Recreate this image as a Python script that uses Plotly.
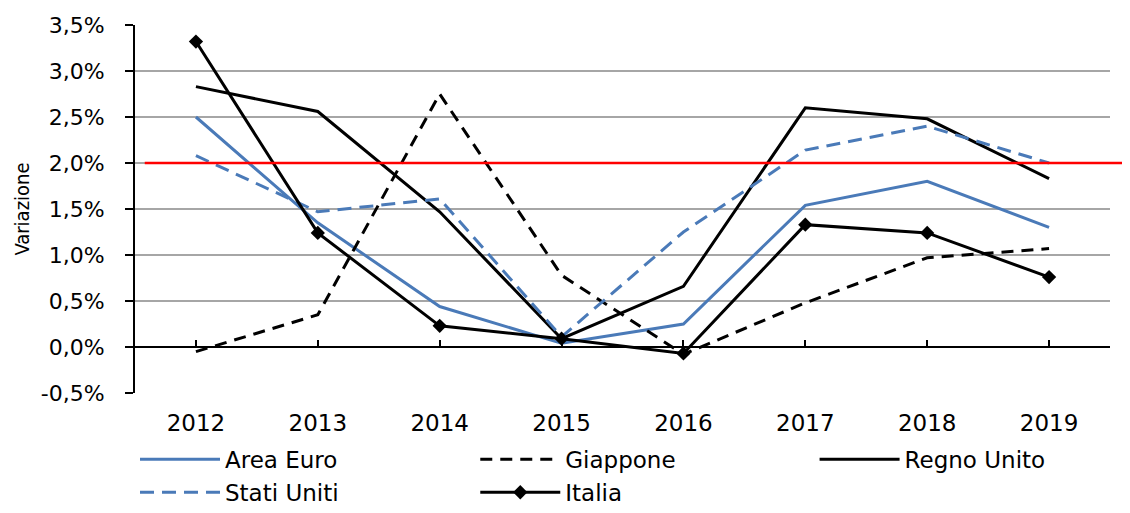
import plotly.graph_objects as go

anni = ["2012", "2013", "2014", "2015", "2016", "2017", "2018", "2019"]

area_euro = [2.50, 1.35, 0.44, 0.04, 0.25, 1.54, 1.80, 1.30]
giappone = [-0.05, 0.35, 2.75, 0.78, -0.08, 0.48, 0.97, 1.07]
regno_unito = [2.83, 2.56, 1.47, 0.09, 0.66, 2.60, 2.48, 1.83]
stati_uniti = [2.08, 1.47, 1.61, 0.11, 1.25, 2.14, 2.40, 2.00]
italia = [3.32, 1.24, 0.23, 0.09, -0.07, 1.33, 1.24, 0.76]

y_ticks = [-0.5, 0, 0.5, 1, 1.5, 2, 2.5, 3, 3.5]
y_labels = ["-0,5%", "0,0%", "0,5%", "1,0%", "1,5%", "2,0%", "2,5%", "3,0%", "3,5%"]
target = 2.0

blu = "#4a7ab8"

fig = go.Figure()
fig.add_trace(go.Scatter(x=anni, y=area_euro, name="Area Euro", mode="lines",
                         line=dict(color=blu, width=3), legend="legend"))
fig.add_trace(go.Scatter(x=anni, y=giappone, name="Giappone", mode="lines",
                         line=dict(color="black", width=3, dash="12px,8px"),
                         legend="legend2"))
fig.add_trace(go.Scatter(x=anni, y=regno_unito, name="Regno Unito", mode="lines",
                         line=dict(color="black", width=3), legend="legend3"))
fig.add_trace(go.Scatter(x=anni, y=stati_uniti, name="Stati Uniti", mode="lines",
                         line=dict(color=blu, width=3, dash="14px,8px"),
                         legend="legend"))
fig.add_trace(go.Scatter(x=anni, y=italia, name="Italia", mode="lines+markers",
                         line=dict(color="black", width=3),
                         marker=dict(symbol="diamond", size=11, color="black"),
                         legend="legend2"))
# asse orizzontale sullo zero, serve solo per le tacche
fig.add_trace(go.Scatter(x=list(range(len(anni))), y=italia, xaxis="x2", yaxis="y",
                         mode="none", showlegend=False, hoverinfo="skip"))

# linea rossa al 2%
fig.add_shape(type="line", xref="paper", yref="y", x0=0.01, x1=1.03,
              y0=target, y1=target, line=dict(color="#ff0000", width=2.5))

leg = dict(orientation="v", y=-0.122, xanchor="left", yanchor="top",
           itemwidth=80, font=dict(size=23), tracegroupgap=0,
           bgcolor="rgba(0,0,0,0)")

fig.update_layout(
    width=1122, height=505,
    margin=dict(l=127, r=20, t=17, b=120, autoexpand=False),
    plot_bgcolor="white", paper_bgcolor="white",
    font=dict(family="DejaVu Sans", color="black"),
    xaxis=dict(type="category", range=[-0.5, 7.5], showgrid=False, showline=False,
               ticks="", tickfont=dict(size=23), ticklabelstandoff=14),
    xaxis2=dict(overlaying="x", anchor="free", position=0.125, range=[-0.5, 7.5],
                tickvals=list(range(8)), ticks="inside", ticklen=6, tickwidth=2,
                tickcolor="black", showticklabels=False, showgrid=False,
                showline=True, linecolor="black", linewidth=2, zeroline=False),
    yaxis=dict(range=[-0.5, 3.5], tickvals=y_ticks, ticktext=y_labels,
               showgrid=True, gridcolor="#a6a6a6", gridwidth=1.5,
               zeroline=True, zerolinecolor="black", zerolinewidth=2,
               showline=True, linecolor="black", linewidth=2,
               ticks="outside", ticklen=8, tickwidth=2, tickcolor="black",
               tickfont=dict(size=22), ticklabelstandoff=16,
               title=dict(text="Variazione", standoff=6,
                          font=dict(family="DejaVu Sans Condensed", size=20))),
    legend=dict(leg, x=0.0),
    legend2=dict(leg, x=0.349),
    legend3=dict(leg, x=0.697),
)

fig.write_html("out.html")
